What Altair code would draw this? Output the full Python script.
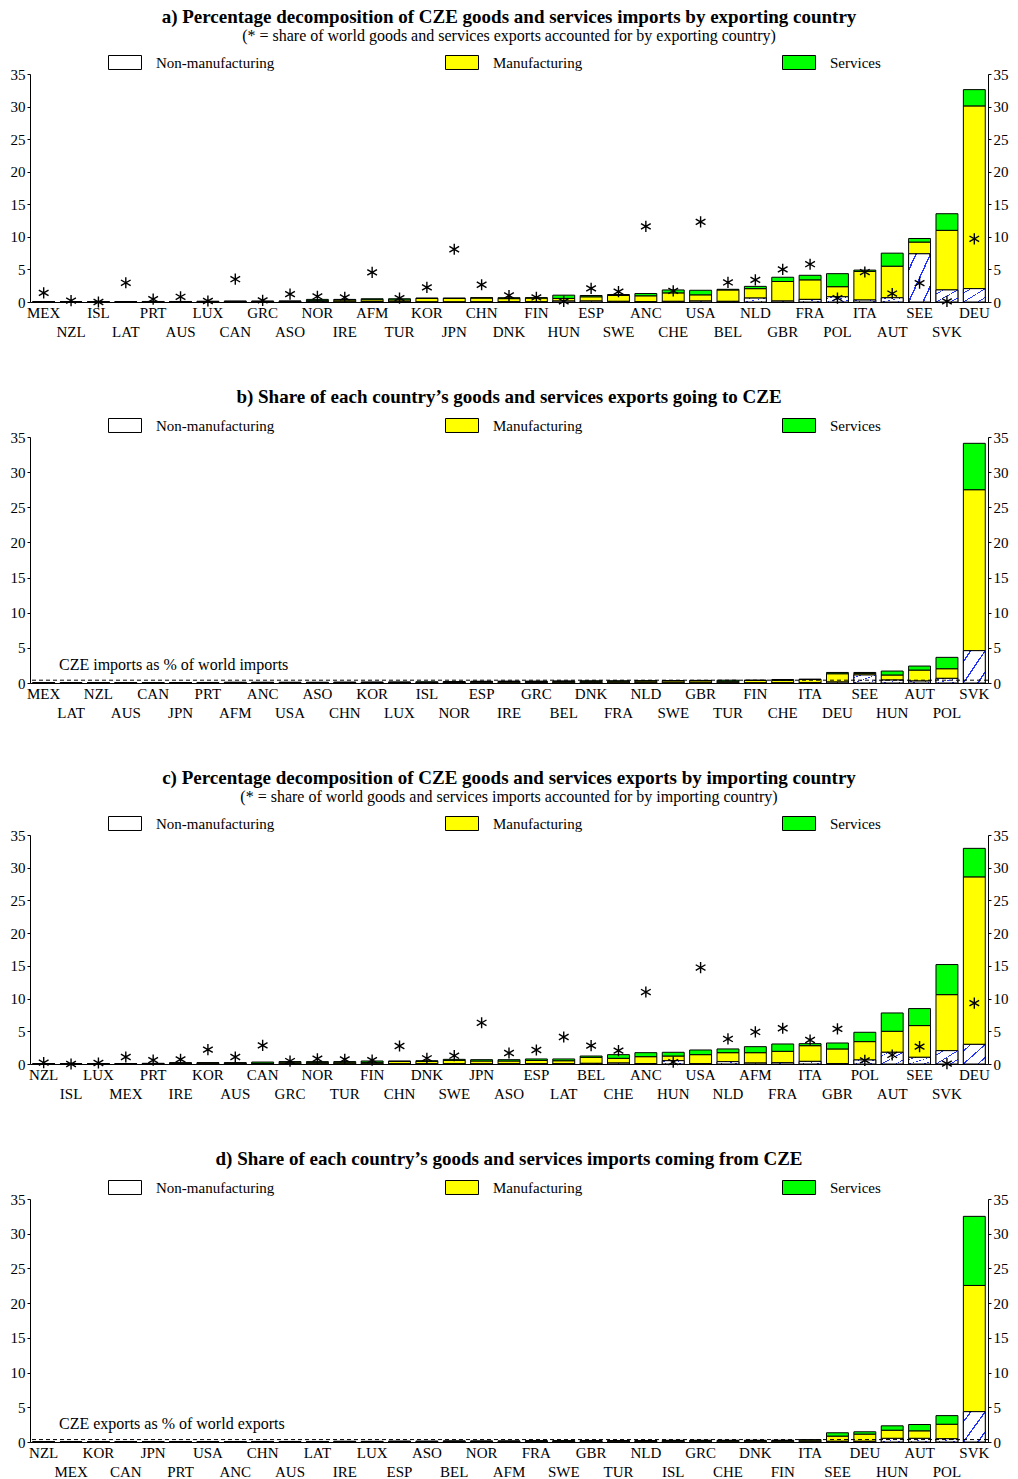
import json
import altair as alt
import pandas as pd

FONT = "Liberation Serif"
COMPONENTS = ["Non-manufacturing", "Manufacturing", "Services"]
COLORS = ["#ffffff", "#ffff00", "#00ff00"]

# ---------------- a) imports by exporting country ----------------
a_countries = ["MEX", "NZL", "ISL", "LAT", "PRT", "AUS", "LUX", "CAN", "GRC", "ASO",
               "NOR", "IRE", "AFM", "TUR", "KOR", "JPN", "CHN", "DNK", "FIN", "HUN",
               "ESP", "SWE", "ANC", "CHE", "USA", "BEL", "NLD", "GBR", "FRA", "POL",
               "ITA", "AUT", "SEE", "SVK", "DEU"]
a_nonman = [0.00, 0.00, 0.00, 0.00, 0.00, 0.01, 0.00, 0.01, 0.01, 0.01,
            0.10, 0.00, 0.05, 0.02, 0.00, 0.00, 0.01, 0.02, 0.02, 0.15,
            0.15, 0.10, 0.05, 0.10, 0.15, 0.10, 0.60, 0.15, 0.40, 0.80,
            0.30, 0.65, 7.40, 1.85, 2.05]
a_man = [0.02, 0.01, 0.00, 0.02, 0.06, 0.04, 0.06, 0.08, 0.08, 0.10,
         0.10, 0.30, 0.30, 0.30, 0.55, 0.55, 0.60, 0.50, 0.58, 0.40,
         0.65, 0.90, 0.90, 1.30, 0.95, 1.75, 1.45, 3.00, 3.00, 1.55,
         4.40, 4.85, 1.80, 9.15, 28.05]
a_serv = [0.01, 0.01, 0.02, 0.01, 0.02, 0.03, 0.06, 0.06, 0.06, 0.04,
          0.20, 0.10, 0.15, 0.18, 0.05, 0.05, 0.05, 0.14, 0.06, 0.50,
          0.20, 0.15, 0.35, 0.45, 0.70, 0.10, 0.35, 0.65, 0.70, 2.00,
          0.20, 2.00, 0.55, 2.55, 2.50]
a_star = [1.4, 0.2, 0.0, 2.95, 0.45, 0.8, 0.15, 3.5, 0.25, 1.2,
          0.85, 0.7, 4.55, 0.6, 2.25, 8.1, 2.65, 1.0, 0.7, 0.1,
          2.1, 1.6, 11.6, 1.7, 12.3, 3.0, 3.4, 5.0, 5.8, 0.6,
          4.6, 1.3, 2.9, 0.1, 9.7]

# ---------------- b) share of each country's exports going to CZE ----------------
b_countries = ["MEX", "LAT", "NZL", "AUS", "CAN", "JPN", "PRT", "AFM", "ANC", "USA",
               "ASO", "CHN", "KOR", "LUX", "ISL", "NOR", "ESP", "IRE", "GRC", "BEL",
               "DNK", "FRA", "NLD", "SWE", "GBR", "TUR", "FIN", "CHE", "ITA", "DEU",
               "SEE", "HUN", "AUT", "POL", "SVK"]
b_nonman = [0.00, 0.01, 0.00, 0.01, 0.01, 0.00, 0.00, 0.02, 0.00, 0.01,
            0.01, 0.00, 0.00, 0.01, 0.04, 0.08, 0.02, 0.01, 0.05, 0.02,
            0.03, 0.01, 0.02, 0.01, 0.01, 0.02, 0.01, 0.01, 0.03, 0.14,
            1.14, 0.42, 0.28, 0.66, 4.60]
b_man = [0.02, 0.03, 0.04, 0.04, 0.05, 0.06, 0.06, 0.06, 0.08, 0.07,
         0.07, 0.09, 0.10, 0.08, 0.04, 0.06, 0.18, 0.20, 0.15, 0.22,
         0.22, 0.25, 0.26, 0.29, 0.30, 0.23, 0.35, 0.37, 0.47, 1.18,
         0.23, 0.72, 1.56, 1.37, 22.90]
b_serv = [0.01, 0.01, 0.01, 0.01, 0.01, 0.01, 0.02, 0.02, 0.02, 0.02,
          0.02, 0.02, 0.02, 0.06, 0.10, 0.06, 0.05, 0.06, 0.07, 0.04,
          0.05, 0.04, 0.05, 0.05, 0.06, 0.15, 0.06, 0.12, 0.05, 0.18,
          0.13, 0.56, 0.57, 1.62, 6.60]
b_ref = 0.4
b_ref_text = "CZE imports as % of world imports"

# ---------------- c) exports by importing country ----------------
c_countries = ["NZL", "ISL", "LUX", "MEX", "PRT", "IRE", "KOR", "AUS", "CAN", "GRC",
               "NOR", "TUR", "FIN", "CHN", "DNK", "SWE", "JPN", "ASO", "ESP", "LAT",
               "BEL", "CHE", "ANC", "HUN", "USA", "NLD", "AFM", "FRA", "ITA", "GBR",
               "POL", "AUT", "SEE", "SVK", "DEU"]
c_nonman = [0.00, 0.00, 0.00, 0.00, 0.00, 0.00, 0.00, 0.01, 0.00, 0.03,
            0.02, 0.01, 0.01, 0.01, 0.02, 0.02, 0.00, 0.01, 0.02, 0.02,
            0.10, 0.15, 0.05, 0.51, 0.05, 0.36, 0.15, 0.20, 0.40, 0.05,
            0.61, 1.79, 1.02, 2.04, 3.00]
c_man = [0.02, 0.01, 0.02, 0.04, 0.08, 0.15, 0.17, 0.15, 0.12, 0.25,
         0.24, 0.27, 0.25, 0.38, 0.38, 0.54, 0.46, 0.45, 0.53, 0.48,
         0.92, 0.72, 1.07, 0.71, 1.38, 1.37, 1.58, 1.74, 2.40, 2.25,
         2.81, 3.21, 4.85, 8.56, 25.60]
c_serv = [0.01, 0.01, 0.01, 0.01, 0.02, 0.05, 0.03, 0.04, 0.18, 0.08,
          0.10, 0.08, 0.20, 0.07, 0.10, 0.15, 0.20, 0.20, 0.22, 0.27,
          0.20, 0.56, 0.61, 0.57, 0.71, 0.57, 0.92, 1.12, 0.31, 0.91,
          1.43, 2.80, 2.60, 4.60, 4.36]
c_star = [0.2, 0.0, 0.15, 1.07, 0.6, 0.7, 2.2, 1.07, 2.85, 0.45,
          0.8, 0.7, 0.6, 2.75, 0.87, 1.27, 6.3, 1.68, 2.14, 4.13,
          2.8, 2.04, 11.0, 0.3, 14.74, 3.83, 4.9, 5.46, 3.67, 5.36,
          0.56, 1.38, 2.65, 0.05, 9.3]

# ---------------- d) share of each country's imports coming from CZE ----------------
d_countries = ["NZL", "MEX", "KOR", "CAN", "JPN", "PRT", "USA", "ANC", "CHN", "AUS",
               "LAT", "IRE", "LUX", "ESP", "ASO", "BEL", "NOR", "AFM", "FRA", "SWE",
               "GBR", "TUR", "NLD", "ISL", "GRC", "CHE", "DNK", "FIN", "ITA", "SEE",
               "DEU", "HUN", "AUT", "POL", "SVK"]
d_nonman = [0.00, 0.00, 0.00, 0.00, 0.00, 0.00, 0.00, 0.00, 0.00, 0.00,
            0.01, 0.00, 0.00, 0.00, 0.01, 0.01, 0.01, 0.02, 0.01, 0.01,
            0.01, 0.01, 0.01, 0.02, 0.02, 0.01, 0.01, 0.01, 0.02, 0.10,
            0.10, 0.52, 0.52, 0.47, 4.37]
d_man = [0.01, 0.02, 0.02, 0.02, 0.03, 0.04, 0.04, 0.05, 0.07, 0.06,
         0.05, 0.08, 0.06, 0.09, 0.08, 0.11, 0.10, 0.10, 0.14, 0.14,
         0.15, 0.15, 0.15, 0.16, 0.16, 0.18, 0.18, 0.19, 0.25, 0.75,
         1.04, 1.18, 1.09, 2.09, 18.18]
d_serv = [0.01, 0.00, 0.01, 0.01, 0.01, 0.01, 0.01, 0.01, 0.01, 0.02,
          0.02, 0.02, 0.04, 0.03, 0.03, 0.03, 0.04, 0.03, 0.05, 0.05,
          0.05, 0.05, 0.05, 0.06, 0.07, 0.06, 0.06, 0.06, 0.07, 0.48,
          0.33, 0.63, 0.91, 1.24, 9.95]
d_ref = 0.35
d_ref_text = "CZE exports as % of world exports"

TITLES = {
    "a": ("a) Percentage decomposition of CZE goods and services imports by exporting country",
          "(* = share of world goods and services exports accounted for by exporting country)"),
    "b": ("b) Share of each country\u2019s goods and services exports going to CZE", None),
    "c": ("c) Percentage decomposition of CZE goods and services exports by importing country",
          "(* = share of world goods and services imports accounted for by importing country)"),
    "d": ("d) Share of each country\u2019s goods and services imports coming from CZE", None),
}

STAR_PATH = "M0,-1L0,1M-0.87,-0.5L0.87,0.5M-0.87,0.5L0.87,-0.5"
SWATCH_PATH = "M-1,-0.424H1V0.424H-1Z"


def hatch_gradient():
    stops = [alt.GradientStop(offset=0, color="#ffffff")]
    for c in [0.17, 0.5, 0.83]:
        stops += [
            alt.GradientStop(offset=c - 0.018, color="#ffffff"),
            alt.GradientStop(offset=c - 0.018, color="#2233ff"),
            alt.GradientStop(offset=c + 0.018, color="#2233ff"),
            alt.GradientStop(offset=c + 0.018, color="#ffffff"),
        ]
    stops.append(alt.GradientStop(offset=1, color="#ffffff"))
    return alt.LinearGradient(gradient="linear", stops=stops, x1=0, y1=0, x2=1, y2=1)


def panel(key, countries, nm, m, s, height, stars=None, ref=None, ref_text=None):
    rows = []
    for i, c in enumerate(countries):
        for k, vals in enumerate([nm, m, s]):
            rows.append({"country": c, "component": COMPONENTS[k], "ord": k, "value": vals[i]})
    df = pd.DataFrame(rows)
    totals = pd.DataFrame({"country": countries,
                           "total": [a + b + c for a, b, c in zip(nm, m, s)]})

    odd = countries[1::2]
    test = "indexof(" + json.dumps(odd) + ", datum.value) >= 0"
    x_axis = alt.Axis(title=None, labelAngle=0, ticks=False, domain=True,
                      domainColor="black", domainWidth=1, grid=False,
                      labelFont=FONT, labelFontSize=15, labelColor="black",
                      labelOverlap=False, labelFlush=False,
                      labelPadding={"condition": {"test": test, "value": 22}, "value": 3})
    x = alt.X("country:N", sort=countries,
              scale=alt.Scale(paddingInner=0.2, paddingOuter=0.1), axis=x_axis)
    yscale = alt.Scale(domain=[0, 35], nice=False, zero=True)

    def y_axis(orient):
        return alt.Axis(title=None, orient=orient, values=[0, 5, 10, 15, 20, 25, 30, 35],
                        grid=False, domainColor="black", tickColor="black",
                        tickSize=3, labelPadding=2, labelFont=FONT, labelFontSize=15,
                        labelColor="black")

    legend = alt.Legend(title=None, orient="none", legendX=78, legendY=-28.5,
                        direction="horizontal", columns=3, gridAlign="all",
                        columnPadding=168, labelOffset=14,
                        labelFont=FONT, labelFontSize=15, labelColor="black",
                        symbolType=SWATCH_PATH, symbolSize=1089,
                        symbolStrokeColor="black", symbolStrokeWidth=1,
                        symbolOpacity=1)

    bars = alt.Chart(df).mark_bar(stroke="black", strokeWidth=1).encode(
        x=x,
        y=alt.Y("value:Q", stack="zero", scale=yscale, axis=y_axis("left")),
        color=alt.Color("component:N",
                        scale=alt.Scale(domain=COMPONENTS, range=COLORS),
                        legend=legend),
        order=alt.Order("ord:Q", sort="ascending"),
    )
    hatch = alt.Chart(df).transform_filter(
        alt.datum.component == "Non-manufacturing"
    ).mark_bar(stroke="black", strokeWidth=1, fill=hatch_gradient()).encode(
        x=x,
        y=alt.Y("value:Q", stack="zero", scale=yscale, axis=None),
    )
    right = alt.Chart(totals).mark_point(opacity=0).encode(
        x=x,
        y=alt.Y("total:Q", scale=yscale, axis=y_axis("right")),
    )
    layers = [bars, hatch, right]
    if stars is not None:
        sdf = pd.DataFrame({"country": countries, "star": stars})
        layers.append(alt.Chart(sdf).mark_point(
            shape=STAR_PATH, filled=False, stroke="black", strokeWidth=1.4,
            size=125, opacity=1).encode(
            x=x, y=alt.Y("star:Q", scale=yscale, axis=None)))
    if ref is not None:
        one = pd.DataFrame({"ref": [ref], "label": [ref_text], "ypos": [2.6]})
        layers.append(alt.Chart(one).mark_rule(
            color="black", strokeDash=[4, 3], strokeWidth=1).encode(
            y=alt.Y("ref:Q", scale=yscale, axis=None)))
        layers.append(alt.Chart(one).mark_text(
            align="left", baseline="middle", font=FONT, fontSize=16, color="black").encode(
            x=alt.value(29), y=alt.Y("ypos:Q", scale=yscale, axis=None), text="label:N"))

    title, sub = TITLES[key]
    tkw = dict(text=title, font=FONT, fontSize=19, fontWeight="bold", color="black",
               anchor="middle", frame="group", offset=2)
    if sub:
        tkw.update(subtitle=sub, subtitleFont=FONT, subtitleFontSize=16,
                   subtitleColor="black", subtitlePadding=1)
    return alt.layer(*layers).properties(
        width=958, height=height, title=alt.Title(**tkw),
        view=alt.ViewBackground(stroke="transparent", strokeWidth=0),
    )


pa = panel("a", a_countries, a_nonman, a_man, a_serv, 228, stars=a_star)
pb = panel("b", b_countries, b_nonman, b_man, b_serv, 246, ref=b_ref, ref_text=b_ref_text)
pc = panel("c", c_countries, c_nonman, c_man, c_serv, 229, stars=c_star)
pd_ = panel("d", d_countries, d_nonman, d_man, d_serv, 243, ref=d_ref, ref_text=d_ref_text)

chart = alt.vconcat(pa, pb, pc, pd_, spacing=48).resolve_scale(
    color="independent", x="independent", y="independent"
).resolve_legend(color="independent").configure_view(
    stroke="transparent", strokeWidth=0
).configure(
    background="white", padding={"left": 10, "top": 7, "right": 5, "bottom": 0},
    style={"cell": {"stroke": "transparent", "strokeWidth": 0}},
)

chart.save("out.html", embed_options={"renderer": "svg", "actions": False})
